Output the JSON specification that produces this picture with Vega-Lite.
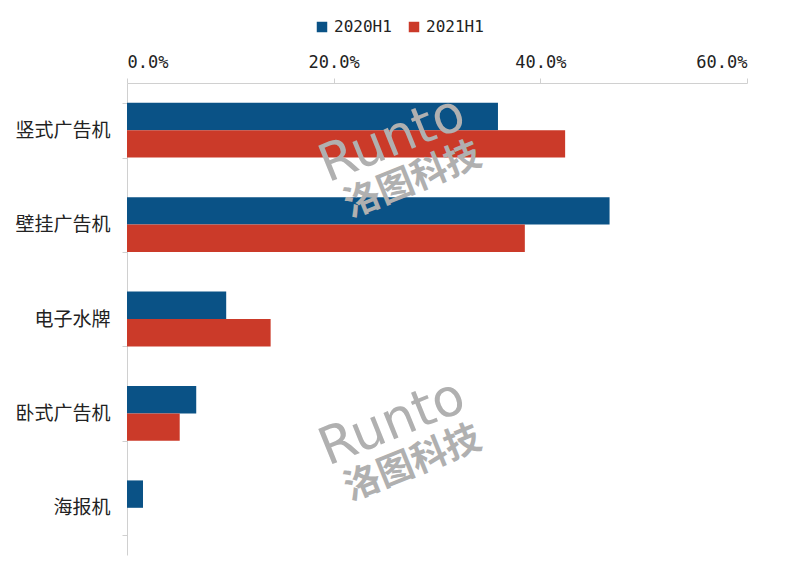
{
  "$schema": "https://vega.github.io/schema/vega-lite/v6.json",
  "width": 620,
  "height": 472,
  "autosize": "none",
  "padding": {"left": 127, "top": 83, "right": 43, "bottom": 23},
  "background": "white",
  "config": {"view": {"stroke": null}},
  "datasets": {
    "bars": [
      {"cat": "竖式广告机", "series": "2020H1", "value": 0.359},
      {"cat": "竖式广告机", "series": "2021H1", "value": 0.424},
      {"cat": "壁挂广告机", "series": "2020H1", "value": 0.467},
      {"cat": "壁挂广告机", "series": "2021H1", "value": 0.385},
      {"cat": "电子水牌", "series": "2020H1", "value": 0.096},
      {"cat": "电子水牌", "series": "2021H1", "value": 0.139},
      {"cat": "卧式广告机", "series": "2020H1", "value": 0.067},
      {"cat": "卧式广告机", "series": "2021H1", "value": 0.051},
      {"cat": "海报机", "series": "2020H1", "value": 0.0155},
      {"cat": "海报机", "series": "2021H1", "value": 0}
    ],
    "watermark": [
      {"text": "Runto", "cat": "竖式广告机", "value": 0.253},
      {"text": "Runto", "cat": "卧式广告机", "value": 0.253},
      {"text": "洛图科技", "cat": "竖式广告机", "value": 0.257},
      {"text": "洛图科技", "cat": "卧式广告机", "value": 0.257}
    ]
  },
  "encoding": {
    "y": {
      "field": "cat", "type": "nominal",
      "scale": {"domain": ["竖式广告机", "壁挂广告机", "电子水牌", "卧式广告机", "海报机"], "paddingInner": 0.42, "paddingOuter": 0.21},
      "axis": {
        "title": null, "tickBand": "extent", "ticks": true, "tickSize": 5,
        "tickColor": "#d0d0d0", "domainColor": "#d0d0d0",
        "labelFont": "Noto Sans CJK SC", "labelFontSize": 19, "labelColor": "#222222",
        "labelPadding": 12
      }
    },
    "x": {
      "field": "value", "type": "quantitative",
      "scale": {"domain": [0, 0.6], "nice": false},
      "axis": {
        "orient": "top", "title": null, "values": [0, 0.2, 0.4, 0.6], "format": ".1%",
        "grid": false, "tickSize": 5, "tickColor": "#d0d0d0", "domainColor": "#d0d0d0",
        "labelFont": "DejaVu Sans Mono", "labelFontSize": 17, "labelColor": "#222222",
        "labelPadding": 7
      }
    }
  },
  "layer": [
    {
      "data": {"name": "bars"},
      "mark": {"type": "bar"},
      "encoding": {
        "yOffset": {"field": "series", "type": "nominal", "scale": {"paddingInner": 0, "paddingOuter": 0}},
        "color": {
          "field": "series", "type": "nominal",
          "scale": {"domain": ["2020H1", "2021H1"], "range": ["#0a5286", "#cb3a29"]},
          "legend": {
            "title": null, "orient": "none", "legendX": 187, "legendY": -64,
            "direction": "horizontal", "symbolType": "square", "symbolSize": 110,
            "labelFont": "DejaVu Sans Mono", "labelFontSize": 16, "labelColor": "#222222",
            "labelOffset": 4, "columnPadding": 14, "padding": 0
          }
        }
      }
    },
    {
      "data": {"name": "watermark"},
      "transform": [{"filter": "datum.text == 'Runto'"}],
      "mark": {"type": "text", "font": "DejaVu Sans", "fontSize": 52, "angle": 338, "dy": 10, "color": "#b0b0b0", "align": "center", "baseline": "middle"},
      "encoding": {
        "text": {"field": "text"}
      }
    },
    {
      "data": {"name": "watermark"},
      "transform": [{"filter": "datum.text != 'Runto'"}],
      "mark": {"type": "text", "font": "Noto Sans CJK SC", "fontWeight": "bold", "fontSize": 36, "angle": 338, "dy": 54, "color": "#b0b0b0", "align": "center", "baseline": "middle"},
      "encoding": {
        "text": {"field": "text"}
      }
    }
  ]
}
